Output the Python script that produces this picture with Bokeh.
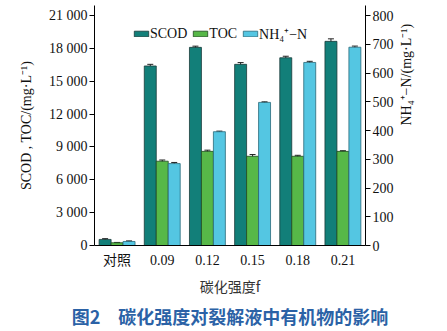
import math
from bokeh.plotting import figure
from bokeh.models import (ColumnDataSource, FactorRange, Range1d, LinearAxis, Whisker,
                          Legend, LegendItem, Title, FixedTicker)
from bokeh.transform import dodge
from bokeh.embed import file_html
from bokeh.resources import INLINE

categories = ["对照", "0.09", "0.12", "0.15", "0.18", "0.21"]
scod = [555, 16400, 18100, 16550, 17150, 18650]
scod_err = [70, 150, 110, 160, 140, 230]
toc = [250, 7700, 8600, 8150, 8150, 8600]
toc_err = [30, 110, 110, 160, 90, 60]
nh4 = [14, 285, 396, 498, 637, 690]
nh4_err = [2, 4, 2, 2, 4, 4]

left_ticks = [0, 3000, 6000, 9000, 12000, 15000, 18000, 21000]
left_labels = ["0", "3 000", "6 000", "9 000", "12 000", "15 000", "18 000", "21 000"]
right_ticks = [0, 100, 200, 300, 400, 500, 600, 700, 800]

C_SCOD = "#127f79"
C_TOC = "#57b848"
C_NH4 = "#54c6e2"
SERIF = "Liberation Serif, Noto Sans CJK SC"

W = 0.265
src = ColumnDataSource(dict(cat=categories, scod=scod, toc=toc, nh4=nh4,
                            scod_lo=[v - e for v, e in zip(scod, scod_err)],
                            scod_hi=[v + e for v, e in zip(scod, scod_err)],
                            toc_lo=[v - e for v, e in zip(toc, toc_err)],
                            toc_hi=[v + e for v, e in zip(toc, toc_err)],
                            nh4_lo=[v - e for v, e in zip(nh4, nh4_err)],
                            nh4_hi=[v + e for v, e in zip(nh4, nh4_err)]))

p = figure(width=447, height=331, x_range=FactorRange(*categories, range_padding=0),
           y_range=Range1d(0, 21000 * 237 / 227), output_backend="svg",
           toolbar_location=None, min_border_left=94, min_border_right=82,
           min_border_top=5, min_border_bottom=0)
p.extra_y_ranges = {"nh": Range1d(0, 800 * 237 / 227)}
p.outline_line_color = None
p.grid.visible = False
p.background_fill_color = "white"

r1 = p.vbar(x=dodge("cat", -W, range=p.x_range), top="scod", width=W, source=src,
            fill_color=C_SCOD, line_color="#1a3a38", line_width=0.8)
r2 = p.vbar(x=dodge("cat", 0, range=p.x_range), top="toc", width=W, source=src,
            fill_color=C_TOC, line_color="#1f4a1f", line_width=0.8)
r3 = p.vbar(x=dodge("cat", W, range=p.x_range), top="nh4", width=W, source=src,
            fill_color=C_NH4, line_color="#2a6a7a", line_width=0.8, y_range_name="nh")

for lo, hi, off, rn in [("scod_lo", "scod_hi", -W, "default"), ("toc_lo", "toc_hi", 0, "default"),
                        ("nh4_lo", "nh4_hi", W, "nh")]:
    wk = Whisker(base=dodge("cat", off, range=p.x_range), lower=lo, upper=hi, source=src,
                 line_color="#222222", line_width=1, y_range_name=rn)
    wk.upper_head.size = 6
    wk.lower_head.size = 6
    wk.upper_head.line_color = "#222222"
    wk.lower_head.line_color = "#222222"
    p.add_layout(wk)

ya = p.yaxis[0]
ya.ticker = FixedTicker(ticks=left_ticks)
ya.major_label_overrides = {t: l for t, l in zip(left_ticks, left_labels)}
ya.axis_label = "SCOD , TOC/(mg·L⁻¹)"
ry = LinearAxis(y_range_name="nh", ticker=FixedTicker(ticks=right_ticks),
                axis_label="NH₄⁺−N/(mg·L⁻¹)")
p.add_layout(ry, "right")
ry.axis_label_orientation = math.pi / 2

for ax in [ya, ry]:
    ax.minor_tick_line_color = None
    ax.major_tick_out = 5
    ax.major_tick_in = 0
    ax.axis_line_color = "black"
    ax.major_tick_line_color = "black"
    ax.major_label_text_font = SERIF
    ax.major_label_text_font_size = "14px"
    ax.major_label_text_color = "#111111"
    ax.major_label_standoff = 2
    ax.axis_label_text_font = SERIF
    ax.axis_label_text_font_size = "14px"
    ax.axis_label_text_font_style = "normal"
    ax.axis_label_text_color = "#111111"
    ax.axis_label_standoff = 10
ya.axis_label_standoff = 12

xa = p.xaxis[0]
xa.major_tick_line_color = None
xa.minor_tick_line_color = None
xa.axis_line_color = "black"
xa.major_label_text_font = SERIF
xa.major_label_text_font_size = "14px"
xa.major_label_text_color = "#111111"
xa.major_label_standoff = 1
xa.axis_label = "碳化强度f"
xa.axis_label_text_font = "Noto Sans CJK SC"
xa.axis_label_text_font_size = "14px"
xa.axis_label_text_font_style = "normal"
xa.axis_label_text_color = "#333333"
xa.axis_label_standoff = 5

legend = Legend(items=[LegendItem(label="SCOD", renderers=[r1]),
                       LegendItem(label="TOC", renderers=[r2]),
                       LegendItem(label="NH₄⁺−N", renderers=[r3])],
                orientation="horizontal", location=(38, 202), border_line_color=None,
                background_fill_alpha=0, glyph_width=18, glyph_height=7, label_standoff=0,
                spacing=4, padding=0, margin=0, label_text_font=SERIF,
                label_text_font_size="14px", label_text_color="#111111")
p.add_layout(legend, "center")

cap = Title(text="图2　碳化强度对裂解液中有机物的影响", align="center",
            text_font="Noto Sans CJK SC", text_font_size="18px", text_font_style="bold",
            text_color="#2b62a6", standoff=5, offset=0)
p.add_layout(cap, "below")

open("out.html", "w").write(file_html(p, INLINE))
